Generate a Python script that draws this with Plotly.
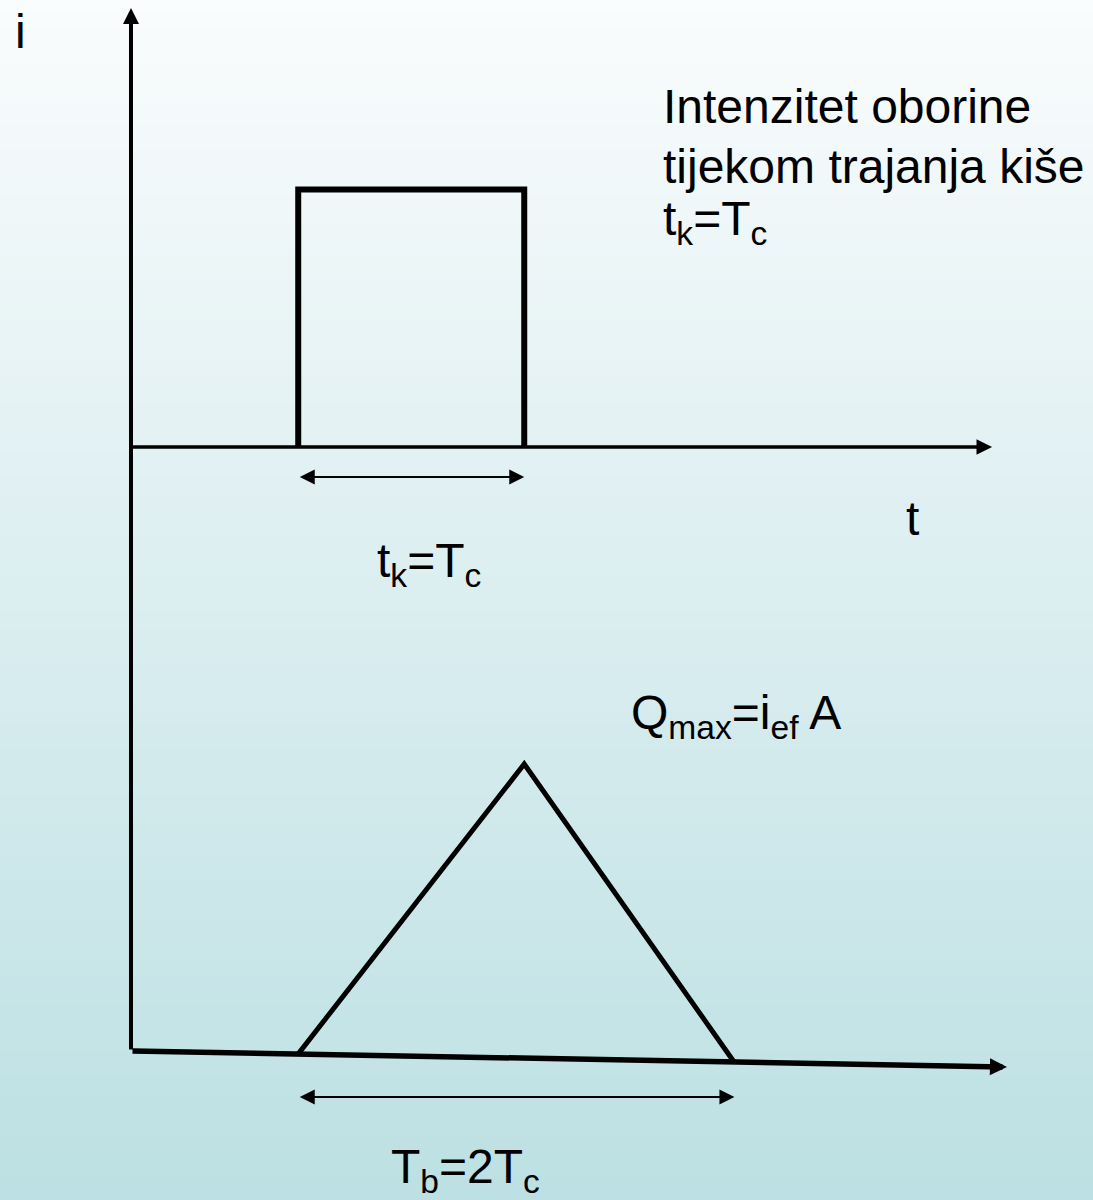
import plotly.graph_objects as go

# ---------------- data (abstract units: t in Tc-ish units, i and Q normalised) -------------
rain_t = [0.74, 0.74, 1.74, 1.74]        # rectangular rain pulse
rain_i = [0.0, 1.0, 1.0, 0.0]

hydro_t = [0.74, 1.74, 2.67]             # triangular hydrograph
hydro_q = [-0.01, 1.0, -0.04]

tk_span = [0.74, 1.74]                   # t_k = T_c duration arrow
tb_span = [0.74, 2.67]                   # T_b = 2T_c duration arrow

top_axis_end = 3.81                       # t axis of rain diagram
bot_axis_end = [3.876, -0.0557]           # end of the (slightly sloped) hydrograph base line
vert_axis_top = 3.634                     # top of the shared vertical axis (in Q units)

# ---------------- layout constants ----------------
W, H = 1093, 1200
XR = [-0.5796, 4.2566]
YR = [-2.9243, 1.7359]     # intensity axis (top diagram)
Y2R = [-0.5192, 3.6620]    # discharge axis (bottom diagram)
FONT = "Liberation Sans, Arial, sans-serif"
FS = 48

fig = go.Figure()

fig.add_trace(go.Scatter(x=rain_t, y=rain_i, mode="lines",
                         line=dict(color="black", width=6),
                         hoverinfo="skip", showlegend=False))
fig.add_trace(go.Scatter(x=hydro_t, y=hydro_q, yaxis="y2", mode="lines",
                         line=dict(color="black", width=5),
                         hoverinfo="skip", showlegend=False))

ann = []

def arrow(x0, y0, x1, y1, yref, width, size, both=False):
    d = dict(x=x1, y=y1, ax=x0, ay=y0, xref="x", yref=yref, axref="x", ayref=yref,
             text="", showarrow=True, arrowhead=2, arrowsize=size, arrowwidth=width,
             arrowcolor="black", standoff=0, startstandoff=0)
    if both:
        d.update(arrowside="end+start", startarrowhead=2, startarrowsize=size)
    ann.append(d)

# axes
arrow(0, 0, 0, vert_axis_top, "y2", 4, 0.8)
arrow(0, 0, top_axis_end, 0, "y", 3.5, 0.89)
arrow(0, 0, bot_axis_end[0], bot_axis_end[1], "y2", 5.5, 0.62)

# duration arrows
arrow(tk_span[0], -0.1165, tk_span[1], -0.1165, "y", 2, 1.5, both=True)
arrow(tb_span[0], -0.160, tb_span[1], -0.160, "y2", 2, 1.5, both=True)

def label(text, x, y, yref, xanchor="center"):
    ann.append(dict(x=x, y=y, xref="x", yref=yref, text=text, showarrow=False,
                    xanchor=xanchor, yanchor="middle", align="left",
                    font=dict(family=FONT, size=FS, color="black")))

label("i", -0.491, 1.612, "y")
label("Intenzitet oborine", 2.345, 1.324, "y", "left")
label("tijekom trajanja kiše", 2.345, 1.091, "y", "left")
label("t<sub>k</sub>=T<sub>c</sub>", 2.345, 0.875, "y", "left")
label("t<sub>k</sub>=T<sub>c</sub>", 1.319, -0.455, "y")
label("t", 3.46, -0.276, "y")
label("Q<sub>max</sub>=i<sub>ef</sub> A", 2.679, 1.167, "y2")
label("T<sub>b</sub>=2T<sub>c</sub>", 1.482, -0.413, "y2")

# background vertical gradient
top_c = (250, 252, 253)
bot_c = (188, 224, 227)
N = 240
shapes = []
for k in range(N):
    f = (k + 0.5) / N  # 0 bottom -> 1 top
    c = tuple(round(bot_c[j] + (top_c[j] - bot_c[j]) * f) for j in range(3))
    shapes.append(dict(type="rect", xref="paper", yref="paper",
                       x0=0, x1=1, y0=k / N, y1=(k + 1) / N + 0.001,
                       fillcolor="rgb(%d,%d,%d)" % c, line=dict(width=0),
                       layer="below"))

fig.update_layout(
    width=W, height=H,
    margin=dict(l=0, r=0, t=0, b=0),
    paper_bgcolor="white", plot_bgcolor="rgba(0,0,0,0)",
    xaxis=dict(range=XR, visible=False, fixedrange=True),
    yaxis=dict(range=YR, visible=False, fixedrange=True),
    yaxis2=dict(range=Y2R, visible=False, overlaying="y", fixedrange=True),
    annotations=ann, shapes=shapes, showlegend=False,
)

fig.write_html("out.html", config={"displayModeBar": False},
               post_script="document.body.style.margin='0px';document.body.style.overflow='hidden';")
